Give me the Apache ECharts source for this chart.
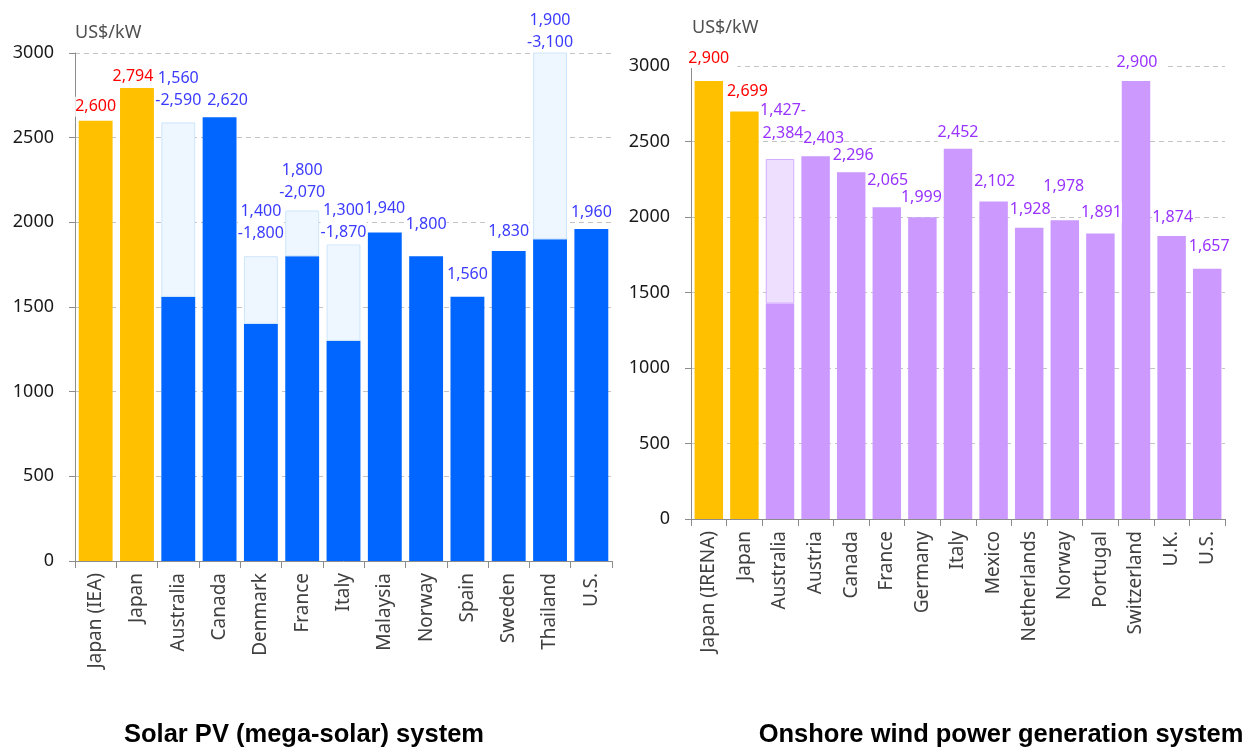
<!DOCTYPE html>
<html>
<head>
<meta charset="utf-8">
<title>Capital cost comparison</title>
<script src="https://cdn.jsdelivr.net/npm/echarts@6/dist/echarts.min.js"></script>
<style>
  html, body { margin: 0; padding: 0; background: #ffffff; }
  #chart { width: 1251px; height: 749px; }
</style>
</head>
<body>
<div id="chart"></div>
<script>
// Solar PV (mega-solar): single costs, or a low-high range where high is given
const solarCategories = ['Japan (IEA)', 'Japan', 'Australia', 'Canada', 'Denmark', 'France', 'Italy', 'Malaysia', 'Norway', 'Spain', 'Sweden', 'Thailand', 'U.S.'];
const solarLow  = [2600, 2794, 1560, 2620, 1400, 1800, 1300, 1940, 1800, 1560, 1830, 1900, 1960];
const solarHigh = [null, null, 2590, null, 1800, 2070, 1870, null, null, null, null, 3100, null];

// Onshore wind power generation
const windCategories = ['Japan (IRENA)', 'Japan', 'Australia', 'Austria', 'Canada', 'France', 'Germany', 'Italy', 'Mexico', 'Netherlands', 'Norway', 'Portugal', 'Switzerland', 'U.K.', 'U.S.'];
const windLow  = [2900, 2699, 1427, 2403, 2296, 2065, 1999, 2452, 2102, 1928, 1978, 1891, 2900, 1874, 1657];
const windHigh = [null, null, 2384, null, null, null, null, null, null, null, null, null, null, null, null];

// Value axis
const yMin = 0, yMax = 3000, yStep = 500;
const unitLabel = 'US$/kW';

// Label placement tweaks (px): gap above the bar top, sideways nudge,
// and whether the label box masks the gridline behind it
const solarLabelLift  = [4, 1, 10, 7, 11, 6, 0, 14, 22, 12, 10, -2, 7];
const solarLabelShift = [0, -4, 0, 8, 0, 0, 0, 0, 0, 0, 0, 0, 0];
const solarLabelMask  = [1, 1, 1, 1, 1, 1, 1, 1, 1, 1, 1, 0, 1];
const windLabelLift   = [13, 10, 13, 8, 7, 17, 10, 6, 10, 8, 24, 11, 9, 9, 12];
const windLabelShift  = [0, 3, 3, 8, 2, 1, -1, 0, 1, 1, -1, 1, 1, 1, 2];
const windLabelMask   = [1, 1, 0, 1, 1, 1, 1, 1, 1, 1, 1, 1, 1, 1, 1];

const COLORS = {
  japan: '#ffc000',
  japanText: '#ff0000',
  solar: '#0066ff',
  solarText: '#3b3bff',
  solarRange: '#eef6ff',
  solarRangeBorder: '#cde6fb',
  wind: '#cc99ff',
  windText: '#9933ff',
  windRange: '#efdfff',
  windRangeBorder: '#d6adff'
};

const FONT = '"Noto Sans", "Open Sans", sans-serif';
const fmt = v => v.toLocaleString('en-US');
const isJapan = name => name.indexOf('Japan') === 0;

function labelBox(mask, i, wide) {
  return mask[i]
    ? { backgroundColor: '#ffffff', padding: wide ? [1, 8] : [1, 0] }
    : { backgroundColor: 'transparent', padding: [1, 0] };
}

function buildSeries(idx, cats, low, high, lift, shift, mask, mainColor, textColor, rangeFill, rangeBorder, gap, kind) {
  const base = low.map((v, i) => {
    const jp = isJapan(cats[i]);
    const single = high[i] == null;
    return {
      value: v,
      itemStyle: { color: jp ? COLORS.japan : mainColor },
      label: Object.assign({
        show: single,
        color: jp ? COLORS.japanText : textColor,
        distance: lift[i],
        offset: [shift[i], 0]
      }, labelBox(mask, i, kind === 'wind' && v >= yMax - 150))
    };
  });
  const range = high.map((h, i) => h == null ? '-' : {
    value: h - low[i],
    label: Object.assign({ show: true, distance: lift[i], offset: [shift[i], 0] }, labelBox(mask, i, false))
  });
  const labelBase = {
    position: 'top',
    fontFamily: FONT,
    fontSize: 16
  };
  return [
    {
      type: 'bar',
      xAxisIndex: idx, yAxisIndex: idx,
      stack: 'cost' + idx,
      barCategoryGap: gap,
      data: base,
      label: Object.assign({}, labelBase, {
        lineHeight: 18,
        formatter: p => fmt(p.value)
      }),
      z: 3
    },
    {
      type: 'bar',
      xAxisIndex: idx, yAxisIndex: idx,
      stack: 'cost' + idx,
      barCategoryGap: gap,
      data: range,
      itemStyle: { color: rangeFill, borderColor: rangeBorder, borderWidth: 1 },
      label: Object.assign({}, labelBase, {
        color: textColor,
        lineHeight: kind === 'wind' ? 23 : 22,
        formatter: p => kind === 'wind'
          ? fmt(low[p.dataIndex]) + '-\n' + fmt(high[p.dataIndex])
          : fmt(low[p.dataIndex]) + '\n-' + fmt(high[p.dataIndex])
      }),
      z: 3
    }
  ];
}

function valueAxis(idx) {
  return {
    type: 'value',
    gridIndex: idx,
    min: yMin, max: yMax, interval: yStep,
    axisLine: { show: true, lineStyle: { color: '#8c8c8c', width: 1 } },
    axisTick: { show: true, length: 6, lineStyle: { color: '#8c8c8c' } },
    axisLabel: { fontFamily: FONT, fontSize: 18, color: '#1a1a1a', margin: 21, formatter: v => String(v) },
    splitLine: { show: true, lineStyle: { color: '#c4c4c4', type: [5, 4], width: 1 } }
  };
}

function categoryAxis(idx, cats) {
  return {
    type: 'category',
    gridIndex: idx,
    data: cats,
    axisLine: { show: true, lineStyle: { color: '#8c8c8c', width: 1 } },
    axisTick: { show: true, length: 7, alignWithLabel: false, interval: 0, lineStyle: { color: '#8c8c8c' } },
    axisLabel: { interval: 0, rotate: 90, fontFamily: FONT, fontSize: 19, color: '#404040', margin: 12 }
  };
}

const chart = echarts.init(document.getElementById('chart'), null, { renderer: 'canvas' });

chart.setOption({
  backgroundColor: '#ffffff',
  animation: false,
  grid: [
    { left: 75, top: 53, width: 537, height: 508 },
    { left: 691, top: 66, width: 534, height: 453 }
  ],
  xAxis: [categoryAxis(0, solarCategories), categoryAxis(1, windCategories)],
  yAxis: [valueAxis(0), valueAxis(1)],
  series: [].concat(
    buildSeries(0, solarCategories, solarLow, solarHigh, solarLabelLift, solarLabelShift, solarLabelMask,
      COLORS.solar, COLORS.solarText, COLORS.solarRange, COLORS.solarRangeBorder, '18%', 'solar'),
    buildSeries(1, windCategories, windLow, windHigh, windLabelLift, windLabelShift, windLabelMask,
      COLORS.wind, COLORS.windText, COLORS.windRange, COLORS.windRangeBorder, '20%', 'wind')
  ),
  graphic: [
    { type: 'text', x: 75, y: 33, style: { text: unitLabel, fill: '#505050', font: '18px ' + FONT, textAlign: 'left', textVerticalAlign: 'middle' } },
    { type: 'text', x: 692, y: 28, style: { text: unitLabel, fill: '#505050', font: '18px ' + FONT, textAlign: 'left', textVerticalAlign: 'middle' } },
    { type: 'text', x: 304, y: 735, style: { text: 'Solar PV (mega-solar) system', fill: '#000000', font: 'bold 25.5px "Liberation Sans", Arial, sans-serif', textAlign: 'center', textVerticalAlign: 'middle' } },
    { type: 'text', x: 1001, y: 735, style: { text: 'Onshore wind power generation system', fill: '#000000', font: 'bold 25.5px "Liberation Sans", Arial, sans-serif', textAlign: 'center', textVerticalAlign: 'middle' } }
  ]
});
</script>
</body>
</html>
